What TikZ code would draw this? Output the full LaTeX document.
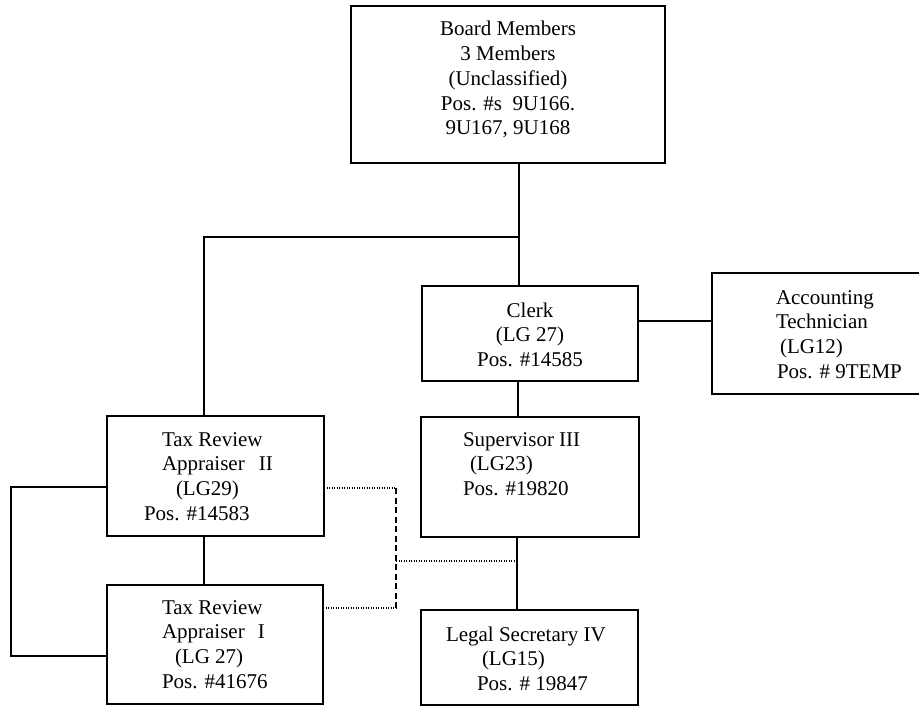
\documentclass[tikz,border=0pt]{standalone}
\usepackage{fontspec}
\setmainfont{Liberation Serif}
\begin{document}
\begin{tikzpicture}[x=1pt,y=-1pt,
  box/.style={draw,line width=1.8pt,inner sep=0pt,outer sep=0pt},
  txt/.style={inner sep=0pt,outer sep=0pt,font=\fontsize{21}{24.7}\selectfont},
  conn/.style={line width=1.5pt},
  dotline/.style={line width=1.1pt,dash pattern=on 1.2pt off 1.3pt},
  dashline/.style={line width=1.3pt,dash pattern=on 6pt off 3.5pt}]
\useasboundingbox (0,0) rectangle (919,706);
\fill[white] (0,0) rectangle (919,706);
% boxes
\node[box,minimum width=314pt,minimum height=157pt] (board) at (508,84.5) {};
\node[box,minimum width=216pt,minimum height=95pt] (clerk) at (530,333.5) {};
\node[box,minimum width=209pt,minimum height=121pt] (acct) at (816.5,333.5) {};
\node[box,minimum width=218pt,minimum height=120pt] (sup) at (530,477) {};
\node[box,minimum width=217pt,minimum height=95pt] (legal) at (529.5,657.5) {};
\node[box,minimum width=217pt,minimum height=120pt] (tra2) at (215.5,476) {};
\node[box,minimum width=216pt,minimum height=119pt] (tra1) at (215,644.5) {};
% texts
\node[txt,anchor=north,align=center] (boardT) at (508,21)
  {\rule{0pt}{15pt}Board Members\\3 Members\\(Unclassified)\\Pos. \#s\ \ 9U166.\\9U167, 9U168};
\node[txt,anchor=north,align=center] (clerkT) at (530,302)
  {\rule{0pt}{15pt}Clerk\\(LG 27)\\Pos. \#14585};
\node[txt,anchor=north west,align=left] (acctT) at (776,289)
  {\rule{0pt}{15pt}Accounting\\Technician\\\hspace*{4pt}(LG12)\\\hspace*{1pt}Pos. \# 9TEMP};
\node[txt,anchor=north west,align=left] (tra2T) at (144,431)
  {\rule{0pt}{15pt}\hspace*{18pt}Tax Review\\\hspace*{18pt}Appraiser\hspace{14pt}II\\\hspace*{32pt}(LG29)\\Pos. \#14583};
\node[txt,anchor=north west,align=left] (tra1T) at (162,599)
  {\rule{0pt}{15pt}Tax Review\\Appraiser\hspace{13pt}I\\\hspace*{13pt}(LG 27)\\Pos. \#41676};
\node[txt,anchor=north west,align=left] (supT) at (463,431)
  {\rule{0pt}{15pt}Supervisor III\\\hspace*{7pt}(LG23)\\Pos. \#19820};
\node[txt,anchor=north west,align=left] (legalT) at (446,626)
  {\rule{0pt}{15pt}Legal Secretary IV\\\hspace*{36pt}(LG15)\\\hspace*{31pt}Pos. \# 19847};
% junction coordinates
\coordinate (j1) at (519,237);
\coordinate (j2) at (204,237);
\coordinate (ja) at (0,321);
\coordinate (jcs) at (518,0);
\coordinate (jsl) at (517,0);
\coordinate (jt) at (204,0);
\coordinate (b1) at (11,487);
\coordinate (b2) at (11,656);
\coordinate (d1) at (396,488);
\coordinate (d2) at (396,608);
\coordinate (d3) at (396,561);
% solid connectors
\draw[conn] (board.south -| j1) -- (clerk.north -| j1);
\draw[conn] (j1) -- (j2) -- (tra2.north -| j2);
\draw[conn] (clerk.east |- ja) -- (acct.west |- ja);
\draw[conn] (clerk.south -| jcs) -- (sup.north -| jcs);
\draw[conn] (sup.south -| jsl) -- (legal.north -| jsl);
\draw[conn] (tra2.south -| jt) -- (tra1.north -| jt);
\draw[conn] (tra2.west |- b1) -- (b1) -- (b2) -- (tra1.west |- b2);
% dotted / dashed connectors
\draw[dotline] (tra2.east |- d1) -- (d1);
\draw[dotline] (tra1.east |- d2) -- (d2);
\draw[dashline] (d1) -- (d2);
\draw[dotline] (d3) -- (d3 -| jsl);
\end{tikzpicture}
\end{document}
